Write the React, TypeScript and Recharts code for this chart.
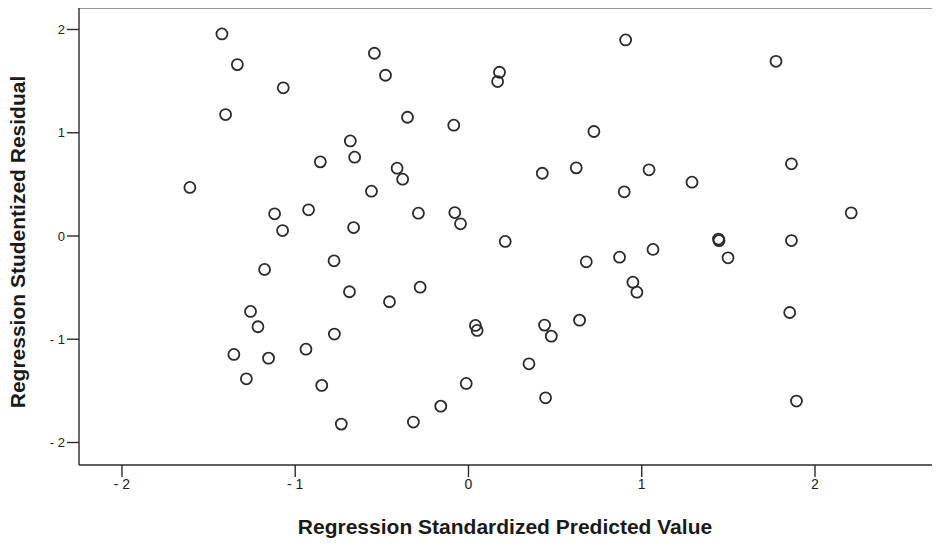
import { ScatterChart, Scatter, XAxis, YAxis, Label, ReferenceLine } from 'recharts';

// standardized predicted values (x) and studentized residuals (y)
const predicted = [
  -1.423, -1.334, -1.069, -1.402, -1.608, -1.119, -0.923, -1.073, -0.543, -0.479,
  0.179, 0.168, -0.352, -0.085, 0.724, -0.682, -0.657, -0.855, -0.412, -0.380,
  0.426, 0.622, -0.560, -0.289, -0.079, -0.046, -0.663, 0.212, 0.907, 1.775,
  1.042, 1.290, 0.899, 1.864, 2.209, 1.443, 1.446, 1.864, 1.065, -1.177,
  -1.258, -1.215, -1.354, -1.154, -1.282, -0.938, -0.847, -0.776, 0.680, 0.872,
  -0.687, -0.456, -0.279, -0.774, 0.040, 0.050, 0.439, 0.478, 0.641, 0.349,
  -0.013, 0.445, -0.160, -0.734, -0.318, 1.498, 0.949, 0.972, 1.854, 1.893,
];
const residual = [
  1.957, 1.660, 1.435, 1.176, 0.470, 0.215, 0.254, 0.053, 1.770, 1.557,
  1.586, 1.496, 1.150, 1.073, 1.012, 0.921, 0.763, 0.718, 0.657, 0.550,
  0.608, 0.660, 0.434, 0.221, 0.227, 0.118, 0.082, -0.053, 1.899, 1.692,
  0.641, 0.521, 0.428, 0.699, 0.224, -0.030, -0.045, -0.044, -0.130, -0.324,
  -0.731, -0.879, -1.147, -1.183, -1.383, -1.096, -1.447, -0.240, -0.250, -0.205,
  -0.540, -0.637, -0.496, -0.950, -0.866, -0.915, -0.863, -0.970, -0.815, -1.238,
  -1.428, -1.567, -1.648, -1.822, -1.802, -0.211, -0.447, -0.544, -0.741, -1.599,
];
const xTicks = [-2, -1, 0, 1, 2];
const yTicks = [-2, -1, 0, 1, 2];

const points = predicted.map((x, i) => ({ x, y: residual[i] }));

const INK = '#2b2b2b';
const FONT = 'Liberation Sans, Arial, sans-serif';

const fmt = (v: number) => (v < 0 ? `- ${-v}` : `${v}`);

const OpenCircle = (props: any) => (
  <circle cx={props.cx} cy={props.cy} r={5.5} fill="none" stroke={INK} strokeWidth={1.8} />
);

export default function App() {
  return (
    <div style={{ margin: -8, width: 940, height: 546, background: '#fff' }}>
      <ScatterChart width={940} height={546} margin={{ top: 7, right: 0, bottom: 0, left: 0 }}>
        <XAxis
          type="number"
          dataKey="x"
          domain={[-2.248, 2.7215]}
          ticks={xTicks}
          tickFormatter={fmt}
          allowDataOverflow
          height={81}
          stroke={INK}
          strokeWidth={1.4}
          tickSize={12}
          tick={{ fill: '#222', fontSize: 14, fontFamily: FONT }}
        >
          <Label
            content={() => (
              <text x={505} y={534} textAnchor="middle" fill="#1a1a1a" fontSize={21} fontWeight="bold" fontFamily={FONT}>
                Regression Standardized Predicted Value
              </text>
            )}
          />
        </XAxis>
        <YAxis
          type="number"
          dataKey="y"
          domain={[-2.218, 2.218]}
          ticks={yTicks}
          tickFormatter={fmt}
          allowDataOverflow
          width={79}
          stroke={INK}
          strokeWidth={1.4}
          tickSize={12}
          tick={{ fill: '#222', fontSize: 13, fontFamily: FONT }}
        >
          <Label
            content={() => (
              <text
                x={25}
                y={242}
                transform="rotate(-90 25 242)"
                textAnchor="middle"
                fill="#1a1a1a"
                fontSize={21}
                fontWeight="bold"
                fontFamily={FONT}
              >
                Regression Studentized Residual
              </text>
            )}
          />
        </YAxis>
        {/* top frame line */}
        <ReferenceLine
          segment={[{ x: -2.248, y: 2.21 }, { x: 2.7215, y: 2.21 }]}
          stroke={INK}
          strokeWidth={1.4}
          ifOverflow="visible"
        />
        <Scatter data={points} shape={OpenCircle} isAnimationActive={false} />
      </ScatterChart>
    </div>
  );
}
